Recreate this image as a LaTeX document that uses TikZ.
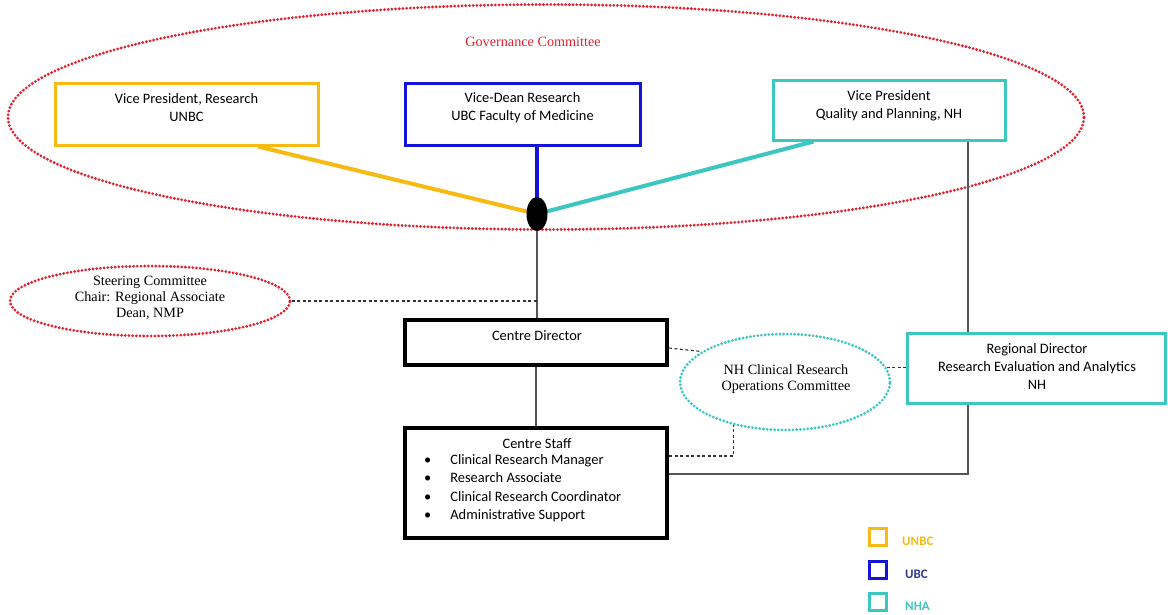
\documentclass[tikz,border=0pt]{standalone}
\usepackage{fontspec}
\setmainfont{Carlito}
\newfontfamily\serifit{Liberation Serif}
\usetikzlibrary{shapes.geometric,calc}
\pgfdeclarelayer{bg}
\pgfsetlayers{bg,main}
\definecolor{cyel}{HTML}{F7BA12}
\definecolor{cblu}{HTML}{1414D8}
\definecolor{ctea}{HTML}{3CC6C0}
\definecolor{cred}{HTML}{E3202B}
\definecolor{cnavy}{HTML}{2E3A8C}
\definecolor{cgry}{HTML}{555555}
\tikzset{
  txt/.style={font=\fontsize{14.4}{18}\selectfont, align=center, inner sep=0pt},
  stxt/.style={font=\serifit\fontsize{14.2}{16}\selectfont, align=center, inner sep=0pt},
  colbox/.style={draw=#1, line width=3pt, rectangle, inner sep=0pt},
  blkbox/.style={draw=black, line width=4pt, rectangle, inner sep=0pt},
  dotell/.style={draw=#1, ellipse, line width=3.1pt, dash pattern=on 0pt off 3.7pt, line cap=round, inner sep=0pt},
  thin/.style={draw=cgry, line width=1.1pt},
  dashy/.style={draw=black!80, line width=1.1pt, dash pattern=on 3pt off 2.5pt},
  colline/.style={draw=#1, line width=4pt},
  legbox/.style={draw=#1, line width=2.6pt, minimum size=17pt, inner sep=0pt},
  legtxt/.style={font=\bfseries\fontsize{13}{15}\selectfont, text=#1, anchor=west, inner sep=0pt}
}
\begin{document}
\begin{tikzpicture}[x=1pt,y=-1pt]
\useasboundingbox (0,0) rectangle (1168,614);
% governance ellipse
\node[dotell=cred, minimum width=1076pt, minimum height=225pt] (gov) at (546,117) {};
\node[stxt, text=cred] (govt) at (533,42) {Governance Committee};
% top boxes
\node[colbox=cyel, minimum width=263pt, minimum height=62pt] (yb) at (186.5,114) {};
\node[txt] (ybt) at (186.5,108) {Vice President, Research\\UNBC};
\node[colbox=cblu, minimum width=235pt, minimum height=62pt] (bb) at (522.5,114) {};
\node[txt] (bbt) at (522.5,108) {Vice-Dean Research\\UBC Faculty of Medicine};
\node[colbox=ctea, minimum width=232pt, minimum height=60pt] (tb) at (889,110) {};
\node[txt] (tbt) at (889,106) {Vice President\\Quality and Planning, NH};
% hub dot
\node[ellipse, fill=black, minimum width=21pt, minimum height=34pt, inner sep=0pt] (dot) at (537,214) {};
% steering
\node[dotell=cred, minimum width=280pt, minimum height=70pt] (st) at (150,301) {};
\node[stxt] (stt) at (150,298) {Steering Committee\\Chair: Regional Associate\\Dean, NMP};
% centre director
\node[blkbox, minimum width=262pt, minimum height=45pt] (cd) at (536,342.5) {};
\node[txt] (cdt) at (537,336) {Centre Director};
% centre staff
\node[blkbox, minimum width=262pt, minimum height=110pt] (cs) at (536,483) {};
\node[txt] (cst) at (537,444) {Centre Staff};
\node[txt, align=left, anchor=north west, font=\fontsize{14.4}{18.4}\selectfont] (csl) at (424,454)
  {\textbullet\hspace{19pt}Clinical Research Manager\\
   \textbullet\hspace{19pt}Research Associate\\
   \textbullet\hspace{19pt}Clinical Research Coordinator\\
   \textbullet\hspace{19pt}Administrative Support};
% NH committee
\node[dotell=ctea, minimum width=210pt, minimum height=96pt] (nh) at (785,382) {};
\node[stxt] (nht) at (786,379) {NH Clinical Research\\Operations Committee};
% regional director
\node[colbox=ctea, minimum width=258pt, minimum height=70pt] (rd) at (1036,368) {};
\node[txt] (rdt) at (1037,366) {Regional Director\\Research Evaluation and Analytics\\NH};
\coordinate (vline) at (968,0);
% legend
\node[legbox=cyel] (l1) at (878,537) {};
\node[legtxt=cyel] (l1t) at (902,541) {UNBC};
\node[legbox=cblu] (l2) at (878,570) {};
\node[legtxt=cnavy] (l2t) at (905,574) {UBC};
\node[legbox=ctea] (l3) at (878,602) {};
\node[legtxt=ctea] (l3t) at (905,606) {NHA};
% connectors
\begin{pgfonlayer}{bg}
\draw[colline=cyel] ($(yb.south)+(71.5,0)$) -- (dot.center);
\draw[colline=cblu] (bb.south -| dot.center) -- (dot.center);
\draw[colline=ctea] ($(tb.south west)+(42,0)$) -- (dot.center);
\end{pgfonlayer}
\draw[thin] (dot.south) -- (dot.south |- cd.north);
\draw[thin] (tb.south -| vline) -- (rd.north -| vline);
\draw[dashy] (st.east) -- (st.east -| dot.center);
\draw[thin] (cd.south) -- (cs.north);
\draw[dashy] ($(cd.east)+(0,5.5)$) -- (nh.160);
\draw[dashy] (nh.8) -- (nh.8 -| rd.west);
\draw[dashy] ($(cs.east)+(0,-27)$) -| (nh.220);
\draw[thin] ($(cs.east)+(0,-9)$) -| (rd.south -| vline);
\end{tikzpicture}
\end{document}
